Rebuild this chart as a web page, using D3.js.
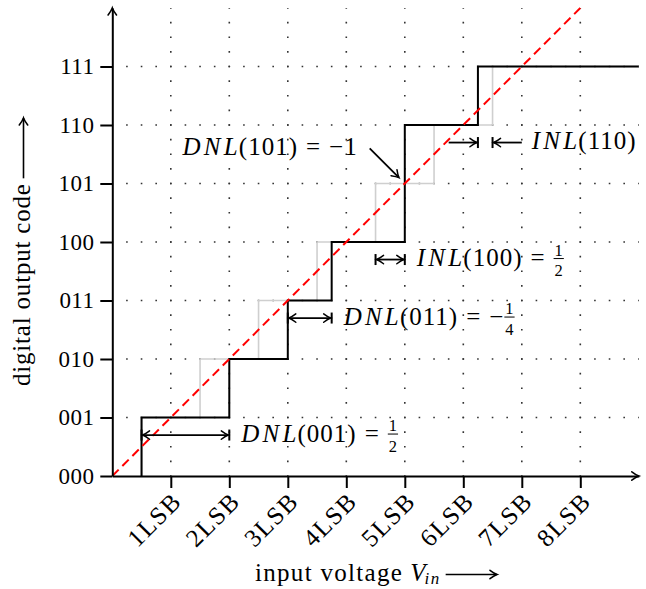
<!DOCTYPE html>
<html><head><meta charset="utf-8">
<script src="https://cdn.jsdelivr.net/npm/d3@7"></script>
<style>body{margin:0;background:#fff}svg{display:block}text{white-space:pre}</style>
</head><body>
<svg id="c" width="646" height="589"></svg>
<script>
// ---------- data ----------
const codeLabels = ["000","001","010","011","100","101","110","111"];
const lsbTicks = [1,2,3,4,5,6,7,8];
const lsbLabels = ["1LSB","2LSB","3LSB","4LSB","5LSB","6LSB","7LSB","8LSB"];
// input (in LSB) at which output code k (k = 1..7) begins
const actualTransitions = [0.5, 2, 3, 3.75, 5, 5, 6.25];
const idealTransitions  = [0.5, 1.5, 2.5, 3.5, 4.5, 5.5, 6.5];
const idealLine = [[0,0],[8,8]];
const xMaxLSB = 9, yMaxLSB = 8;
// double-headed measurement arrows |<->|
const dnlMarks = [
  {name:"DNL", code:"001", from:0.5, to:2,    at:0.7, sign:"",  frac:["1","2"]},
  {name:"DNL", code:"011", from:3,   to:3.75, at:2.7, sign:"−", frac:["1","4"]},
  {name:"INL", code:"100", from:4.5, to:5,    at:3.7, sign:"",  frac:["1","2"]}
];
// INL(110): inward arrows ->| |<-
const inlInward = {name:"INL", code:"110", actual:6.25, ideal:6.5, at:5.7, len:0.5};
// missing code pointer
const missing = {name:"DNL", code:"101", value:"−1", from:[4.4,5.6], to:[4.9,5.1]};

// ---------- setup ----------
const svg = d3.select("#c");
const FONT = "'Liberation Serif','Times New Roman',serif";
const x = d3.scaleLinear().domain([0, xMaxLSB]).range([112.3, 638.8]);
const y = d3.scaleLinear().domain([0, yMaxLSB]).range([476, 8]);
const q = (x(1) - x(0)) / 4;

// ---------- grid ----------
const grid = svg.append("g").attr("stroke","#333").attr("stroke-width",1.6)
  .attr("stroke-dasharray",`1.6 ${q-1.6}`).attr("stroke-dashoffset",0.8);
grid.selectAll("line.v").data(lsbTicks).join("line").attr("class","v")
  .attr("x1",d=>x(d)).attr("x2",d=>x(d)).attr("y1",y(0)).attr("y2",y(yMaxLSB));
grid.selectAll("line.h").data(d3.range(1, codeLabels.length)).join("line").attr("class","h")
  .attr("y1",d=>y(d)).attr("y2",d=>y(d)).attr("x1",x(0)).attr("x2",x(xMaxLSB));

// ---------- staircases ----------
function stairPoints(tr){
  const pts=[]; tr.forEach((t,i)=>{pts.push([t,i]);pts.push([t,i+1]);});
  pts.push([xMaxLSB, tr.length]); return pts;
}
const line = d3.line().x(d=>x(d[0])).y(d=>y(d[1]));
svg.append("path").attr("d", line(stairPoints(idealTransitions)))
  .attr("fill","none").attr("stroke","#cfcfcf").attr("stroke-width",1.6);
svg.append("path").attr("d", line(stairPoints(actualTransitions)))
  .attr("fill","none").attr("stroke","#000").attr("stroke-width",2).attr("stroke-linejoin","miter");
svg.append("path").attr("d", line(idealLine))
  .attr("fill","none").attr("stroke","#ff0000").attr("stroke-width",2).attr("stroke-dasharray","9 5.2");

// ---------- arrow helpers ----------
function tip(g, tx, ty, ang, w){
  g.append("path").attr("d","M -7 -4.2 Q -2.6 -0.9 0 0 Q -2.6 0.9 -7 4.2")
    .attr("transform",`translate(${tx},${ty}) rotate(${ang})`)
    .attr("fill","none").attr("stroke","#000").attr("stroke-width",w||1.5).attr("stroke-linecap","round");
}
function bar(g, bx, by, h){
  g.append("line").attr("x1",bx).attr("x2",bx).attr("y1",by-h/2).attr("y2",by+h/2)
    .attr("stroke","#000").attr("stroke-width",2);
}
function seg(g, x1,y1,x2,y2,w){
  g.append("line").attr("x1",x1).attr("y1",y1).attr("x2",x2).attr("y2",y2)
    .attr("stroke","#000").attr("stroke-width",w||1.8);
}

// ---------- axes ----------
const gx = svg.append("g").attr("transform",`translate(0,${y(0)})`)
  .call(d3.axisBottom(x).tickValues(lsbTicks).tickSize(12).tickSizeOuter(0)
    .tickFormat((d,i)=>lsbLabels[i]));
const gy = svg.append("g").attr("transform",`translate(${x(0)},0)`)
  .call(d3.axisLeft(y).tickValues(d3.range(codeLabels.length)).tickSize(12).tickSizeOuter(0)
    .tickPadding(6).tickFormat(i=>codeLabels[i]));
[gx,gy].forEach(g=>{
  g.selectAll("path,line").attr("stroke","#000").attr("stroke-width",2);
  g.selectAll("text").attr("font-family",FONT).attr("font-size",23).attr("fill","#000");
});
gy.selectAll(".tick text").attr("letter-spacing","0.4px");
gx.selectAll(".tick text").attr("x",0).attr("y",0).attr("dy","0.72em")
  .attr("font-size",25).attr("letter-spacing","1.5px")
  .attr("text-anchor","end").attr("transform","translate(-1,14) rotate(-45)");
const axG = svg.append("g");
tip(axG, x(xMaxLSB), y(0), 0, 1.6);
tip(axG, x(0), y(yMaxLSB), -90, 1.6);

// ---------- math text ----------
const FS = 25, FSS = 16.5;
function mathText(x0, base, parts, anchor){
  const g = svg.append("g").attr("font-family",FONT).attr("fill","#000");
  let cx = 0;
  parts.forEach(p=>{
    if (p.gap!==undefined){ cx += p.gap; return; }
    if (p.frac){
      const n = g.append("text").attr("font-size",FSS).attr("text-anchor","middle").text(p.frac[0]);
      const d = g.append("text").attr("font-size",FSS).attr("text-anchor","middle").text(p.frac[1]);
      const w = Math.max(n.node().getComputedTextLength(), d.node().getComputedTextLength()) + 2;
      n.attr("x",cx+w/2).attr("y",-10.5);
      d.attr("x",cx+w/2).attr("y",10);
      g.append("line").attr("x1",cx).attr("x2",cx+w).attr("y1",-7.8).attr("y2",-7.8)
        .attr("stroke","#000").attr("stroke-width",1);
      cx += w; return;
    }
    const ls = p.it ? 3.2 : 1;
    const t = g.append("text").attr("x",cx).attr("y",0).attr("font-size",FS)
      .attr("font-style",p.it?"italic":"normal")
      .attr("letter-spacing",ls+"px").text(p.t);
    cx += t.node().getComputedTextLength() - (p.it ? 2 : 0);
  });
  g.attr("transform",`translate(${anchor==="end"? x0-cx : x0},${base})`);
}
function labelParts(m){
  const parts = [{t:m.name,it:true},{t:"("+m.code+")"}];
  if (m.frac || m.value){
    parts.push({gap:8},{t:"="},{gap:8});
    if (m.sign) parts.push({t:m.sign},{gap:0});
    if (m.frac) parts.push({frac:m.frac});
    if (m.value) parts.push({t:m.value});
  }
  return parts;
}

// ---------- annotations ----------
const ann = svg.append("g");
dnlMarks.forEach(m=>{
  const x1 = x(Math.min(m.from,m.to)), x2 = x(Math.max(m.from,m.to)), yy = y(m.at);
  seg(ann, x1+1, yy, x2-1, yy);
  tip(ann, x1+1, yy, 180); tip(ann, x2-1, yy, 0);
  bar(ann, x1, yy, 11); bar(ann, x2, yy, 11);
  mathText(x2+12, yy+6.8, labelParts(m), "start");
});
{
  const m = inlInward, yy = y(m.at);
  seg(ann, x(m.actual-m.len), yy, x(m.actual)-1, yy); tip(ann, x(m.actual)-1, yy, 0); bar(ann, x(m.actual), yy, 11);
  seg(ann, x(m.ideal+m.len), yy, x(m.ideal)+1, yy); tip(ann, x(m.ideal)+1, yy, 180); bar(ann, x(m.ideal), yy, 11);
  mathText(x(m.ideal+m.len)+10, yy+6.8, labelParts(m), "start");
}
{
  const m = missing;
  const ax1 = x(m.from[0]), ay1 = y(m.from[1]), ax2 = x(m.to[0]), ay2 = y(m.to[1]);
  seg(ann, ax1, ay1, ax2, ay2);
  tip(ann, ax2, ay2, Math.atan2(ay2-ay1, ax2-ax1)*180/Math.PI);
  mathText(ax1-12, ay1+6.8, labelParts(m), "end");
}

// ---------- axis titles ----------
{
  const g = svg.append("g").attr("transform","translate(30,386) rotate(-90)");
  const t = g.append("text").attr("font-family",FONT).attr("font-size",25).attr("letter-spacing","0.8px")
    .text("digital output code");
  const len = t.node().getComputedTextLength();
  const ax0 = len + 5, ax1 = 268;
  seg(g, ax0, -6.5, ax1, -6.5, 1.6);
  tip(g, ax1, -6.5, 0, 1.6);
}
{
  const g = svg.append("g").attr("transform","translate(255,581)").attr("font-family",FONT);
  const t = g.append("text").attr("font-size",25).attr("letter-spacing","1.3px").text("input voltage");
  let cx = t.node().getComputedTextLength() + 7;
  const v = g.append("text").attr("x",cx).attr("font-size",25).attr("font-style","italic").text("V");
  cx += v.node().getComputedTextLength() - 1;
  const s = g.append("text").attr("x",cx).attr("y",3).attr("font-size",17).attr("font-style","italic").attr("letter-spacing","1.5px").text("in");
  cx += s.node().getComputedTextLength() + 5;
  seg(g, cx, -6.5, 242, -6.5, 1.6);
  tip(g, 242, -6.5, 0, 1.6);
}
</script>
</body></html>
